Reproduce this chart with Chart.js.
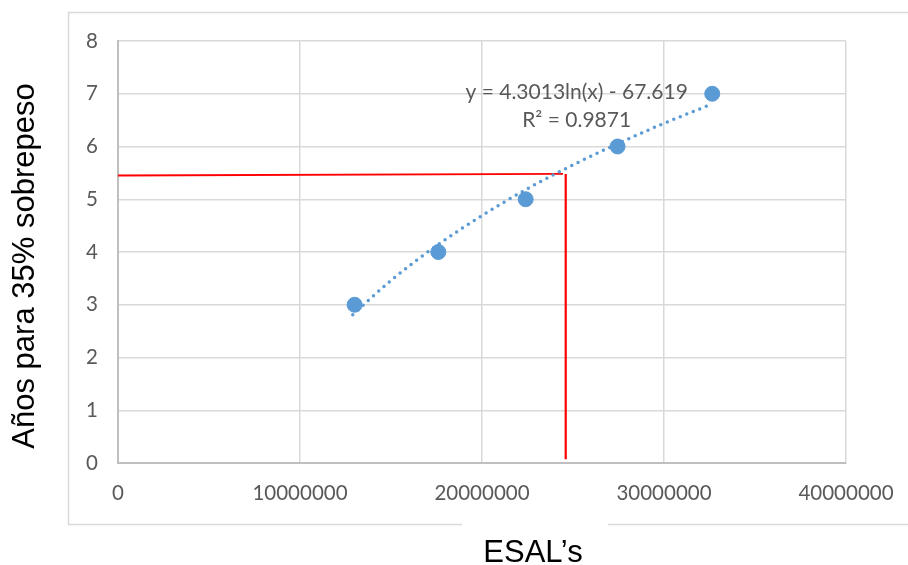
<!DOCTYPE html>
<html lang="es">
<head>
    <meta charset="UTF-8">
    <title>Años para 35% sobrepeso vs ESAL's</title>
    <script src="https://cdn.jsdelivr.net/npm/chart.js@4"></script>
    <style>
        html, body { margin: 0; padding: 0; background: #ffffff; }
        #wrap { width: 908px; height: 565px; position: relative; }
    </style>
</head>
<body>
    <div id="wrap"><canvas id="chart"></canvas></div>

    <script>
        // observed points (ESAL's, years)
        const esals = [13000000, 17600000, 22400000, 27450000, 32650000];
        const years = [3, 4, 5, 6, 7];

        // log trendline
        const trendX = [12900000, 15000000, 17500000, 20000000, 22500000, 25000000, 27500000, 30000000, 32600000];
        const trendY = [2.81, 3.46, 4.12, 4.69, 5.20, 5.65, 6.06, 6.44, 6.80];

        // red reading lines
        const readHX = [0, 24450000];
        const readHY = [5.45, 5.48];
        const readVX = [24600000, 24600000];
        const readVY = [5.48, 0.07];

        const xTicks = [0, 10000000, 20000000, 30000000, 40000000];
        const yTicks = [0, 1, 2, 3, 4, 5, 6, 7, 8];

        const eqLines = ['y = 4.3013ln(x) - 67.619', 'R² = 0.9871'];
        const eqAt = [25200000, 7.03, 6.5];   // x, y of line 1, y of line 2
        const xTitle = 'ESAL’s';
        const yTitle = 'Años para 35% sobrepeso';

        const pts = (xs, ys) => xs.map((x, i) => ({ x: x, y: ys[i] }));

        const decor = {
            id: 'decor',
            beforeDraw(chart) {
                const ctx = chart.ctx;
                ctx.save();
                ctx.fillStyle = '#ffffff';
                ctx.fillRect(0, 0, chart.width, chart.height);
                // outer chart frame, broken under the x title
                ctx.strokeStyle = '#d9d9d9';
                ctx.lineWidth = 1.5;
                ctx.beginPath();
                ctx.moveTo(462, 524.5);
                ctx.lineTo(68.5, 524.5);
                ctx.lineTo(68.5, 12.5);
                ctx.lineTo(910, 12.5);
                ctx.moveTo(608, 524.5);
                ctx.lineTo(910, 524.5);
                ctx.stroke();
                ctx.restore();
            },
            afterDraw(chart) {
                const ctx = chart.ctx;
                const xs = chart.scales.x, ys = chart.scales.y;
                ctx.save();
                ctx.fillStyle = '#595959';
                ctx.font = '21px Lato, "Open Sans", sans-serif';
                ctx.textAlign = 'center';
                ctx.textBaseline = 'middle';
                const ex = xs.getPixelForValue(eqAt[0]);
                ctx.fillText(eqLines[0], ex, ys.getPixelForValue(eqAt[1]));
                ctx.fillText(eqLines[1], ex, ys.getPixelForValue(eqAt[2]));

                ctx.fillStyle = '#000000';
                ctx.font = '31px "Liberation Sans", Arial, sans-serif';
                ctx.textBaseline = 'alphabetic';
                ctx.fillText(xTitle, 533, 562);
                ctx.translate(34, 266);
                ctx.rotate(-Math.PI / 2);
                ctx.fillText(yTitle, 0, 0);
                ctx.restore();
            }
        };

        const tickFont = { family: 'Lato, "Open Sans", sans-serif', size: 20.5 };

        new Chart(document.getElementById('chart'), {
            type: 'scatter',
            data: {
                datasets: [
                    {
                        label: 'Años',
                        data: pts(esals, years),
                        backgroundColor: '#5b9bd5',
                        borderColor: '#5b9bd5',
                        pointRadius: 7.5,
                        pointHoverRadius: 7.5,
                        showLine: false
                    },
                    {
                        label: 'Tendencia',
                        data: pts(trendX, trendY),
                        showLine: true,
                        borderColor: '#5b9bd5',
                        borderWidth: 3.5,
                        borderDash: [0, 7],
                        borderCapStyle: 'round',
                        cubicInterpolationMode: 'monotone',
                        pointRadius: 0,
                        fill: false
                    },
                    {
                        label: 'h',
                        data: pts(readHX, readHY),
                        showLine: true,
                        borderColor: '#ff0000',
                        borderWidth: 1.8,
                        pointRadius: 0,
                        fill: false
                    },
                    {
                        label: 'v',
                        data: pts(readVX, readVY),
                        showLine: true,
                        borderColor: '#ff0000',
                        borderWidth: 2.2,
                        pointRadius: 0,
                        fill: false
                    }
                ]
            },
            options: {
                responsive: true,
                maintainAspectRatio: false,
                animation: false,
                layout: { padding: { top: 41, right: 62, bottom: 0, left: 0 } },
                plugins: {
                    legend: { display: false },
                    tooltip: { enabled: false }
                },
                scales: {
                    x: {
                        type: 'linear',
                        min: 0,
                        max: 40000000,
                        afterBuildTicks: s => { s.ticks = xTicks.map(v => ({ value: v })); },
                        afterFit: s => { s.height = 102; s.paddingLeft = 0; s.paddingRight = 0; },
                        ticks: {
                            color: '#595959',
                            font: tickFont,
                            padding: 18,
                            maxRotation: 0,
                            callback: v => String(v)
                        },
                        grid: { color: '#d9d9d9', lineWidth: 1.5, drawTicks: false },
                        border: { color: '#bfbfbf', width: 2 }
                    },
                    y: {
                        type: 'linear',
                        min: 0,
                        max: 8,
                        afterBuildTicks: s => { s.ticks = yTicks.map(v => ({ value: v })); },
                        afterFit: s => { s.width = 118; s.paddingTop = 0; s.paddingBottom = 0; },
                        ticks: {
                            color: '#595959',
                            font: tickFont,
                            padding: 20,
                            callback: v => String(v)
                        },
                        grid: { color: '#d9d9d9', lineWidth: 1.5, drawTicks: false },
                        border: { color: '#bfbfbf', width: 2 }
                    }
                }
            },
            plugins: [decor]
        });
    </script>
</body>
</html>
